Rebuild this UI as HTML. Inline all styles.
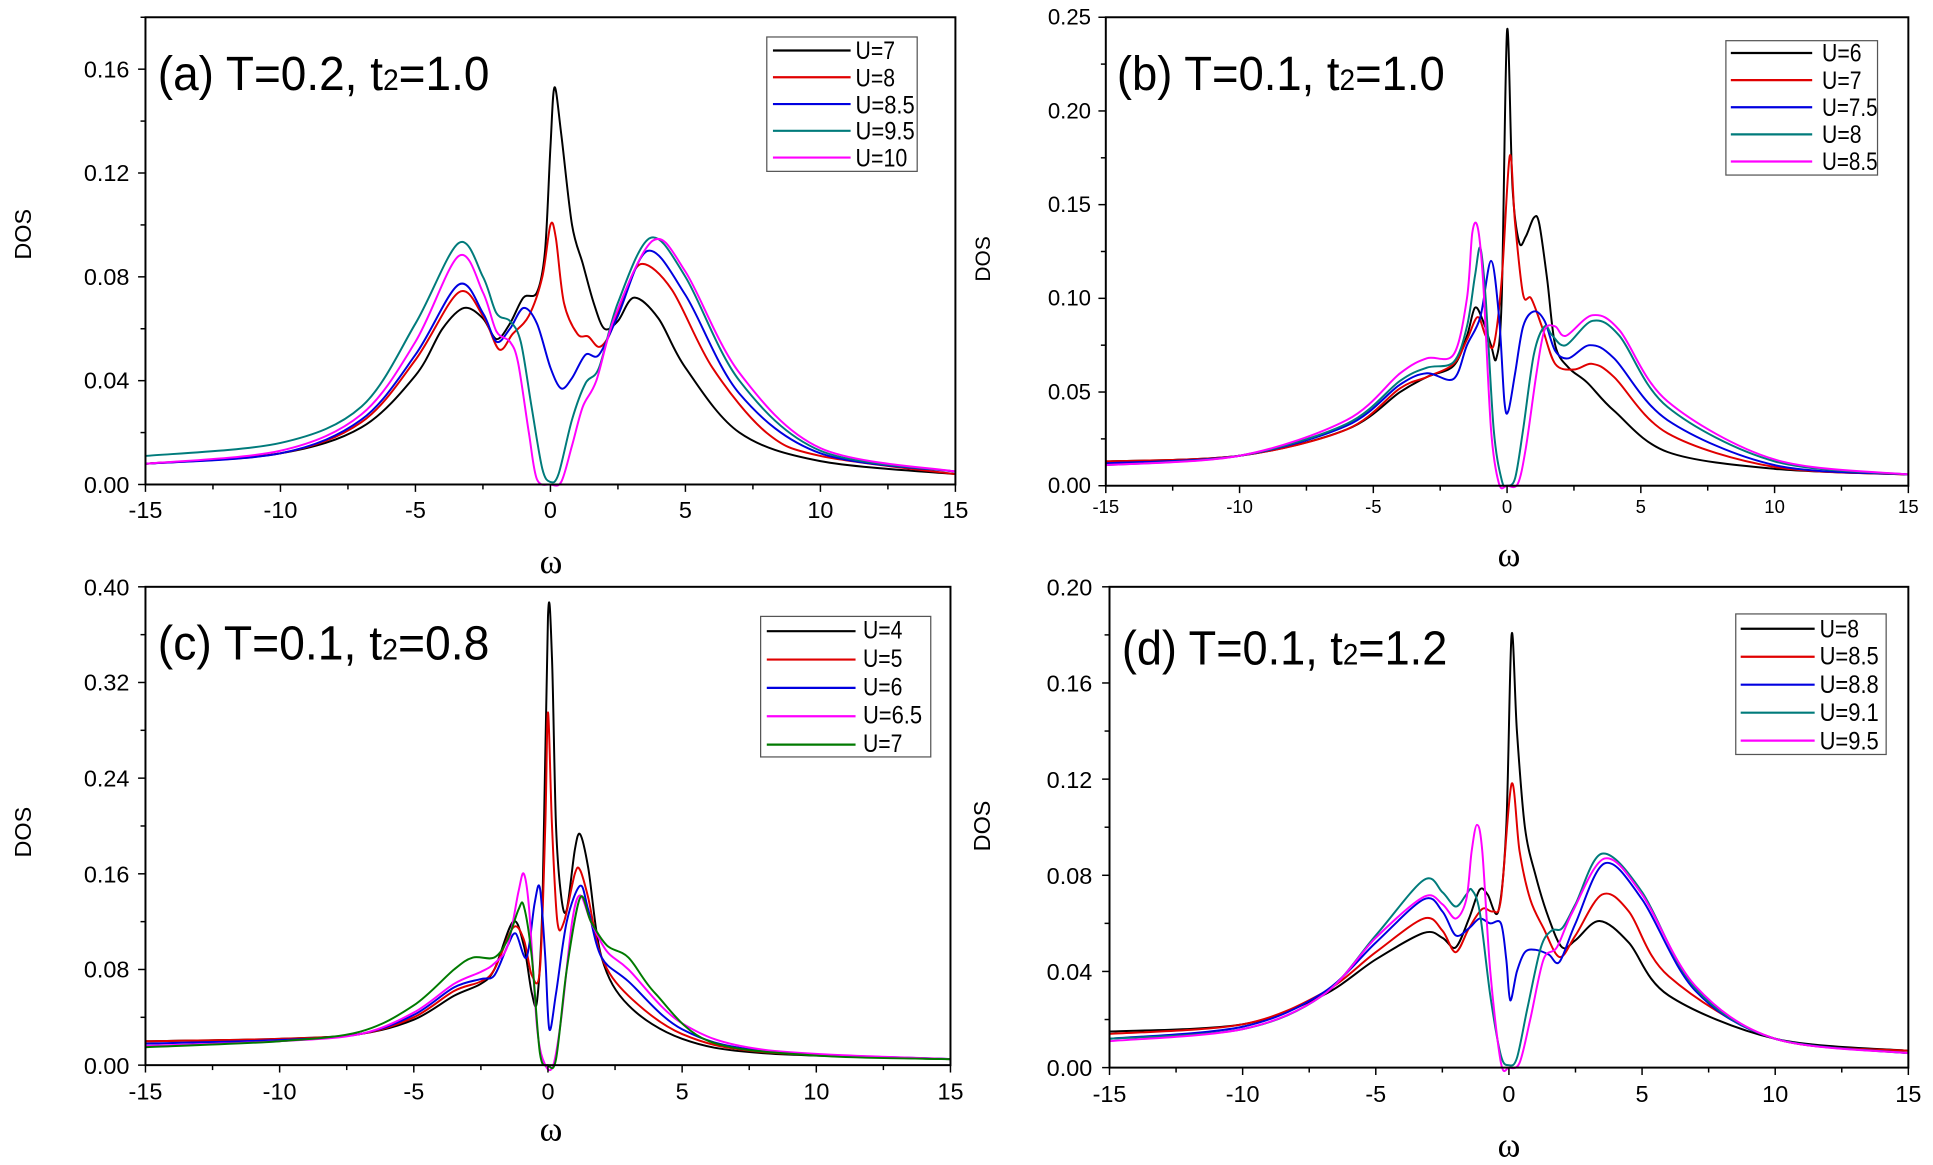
<!DOCTYPE html>
<html><head><meta charset="utf-8">
<style>
html,body{margin:0;padding:0;background:#fff;}
svg{display:block;}
text{font-family:"Liberation Sans",Arial,sans-serif;fill:#000;}
</style></head>
<body>
<svg id="s" xmlns="http://www.w3.org/2000/svg" width="1933" height="1165" viewBox="0 0 1568 945" preserveAspectRatio="none">
<rect width="1568" height="945" fill="#fff"/>
<g id="g"></g>
<!-- Panel a text -->
<g font-size="19">
<text x="105" y="400" text-anchor="end">0.00</text>
<text x="105" y="315" text-anchor="end">0.04</text>
<text x="105" y="231" text-anchor="end">0.08</text>
<text x="105" y="147" text-anchor="end">0.12</text>
<text x="105" y="63" text-anchor="end">0.16</text>
<text x="118" y="420" text-anchor="middle">-15</text>
<text x="227.5" y="420" text-anchor="middle">-10</text>
<text x="337" y="420" text-anchor="middle">-5</text>
<text x="446.5" y="420" text-anchor="middle">0</text>
<text x="556" y="420" text-anchor="middle">5</text>
<text x="665.5" y="420" text-anchor="middle">10</text>
<text x="775" y="420" text-anchor="middle">15</text>
</g>
<text x="447" y="465" font-size="28" text-anchor="middle" style="font-family:'Liberation Serif',serif">ω</text>
<text transform="translate(25,190) rotate(-90)" font-size="19" text-anchor="middle">DOS</text>
<text x="128" y="73" font-size="39" textLength="269" lengthAdjust="spacingAndGlyphs">(a) T=0.2, t<tspan font-size="24">2</tspan>=1.0</text>
<rect x="622" y="30" width="122" height="109" fill="#fff" stroke="#555" stroke-width="1"/>
<g font-size="20">
<text x="694" y="48" textLength="32" lengthAdjust="spacingAndGlyphs">U=7</text><text x="694" y="70" textLength="32" lengthAdjust="spacingAndGlyphs">U=8</text><text x="694" y="92" textLength="48" lengthAdjust="spacingAndGlyphs">U=8.5</text><text x="694" y="113" textLength="48" lengthAdjust="spacingAndGlyphs">U=9.5</text><text x="694" y="135" textLength="42" lengthAdjust="spacingAndGlyphs">U=10</text>
</g>
<!-- Panel b text -->
<g font-size="18">
<text x="885" y="400" text-anchor="end">0.00</text>
<text x="885" y="324" text-anchor="end">0.05</text>
<text x="885" y="248" text-anchor="end">0.10</text>
<text x="885" y="172" text-anchor="end">0.15</text>
<text x="885" y="96" text-anchor="end">0.20</text>
<text x="885" y="20" text-anchor="end">0.25</text>
</g>
<g font-size="15">
<text x="897" y="416" text-anchor="middle">-15</text>
<text x="1005.5" y="416" text-anchor="middle">-10</text>
<text x="1114" y="416" text-anchor="middle">-5</text>
<text x="1222.5" y="416" text-anchor="middle">0</text>
<text x="1331" y="416" text-anchor="middle">5</text>
<text x="1439.5" y="416" text-anchor="middle">10</text>
<text x="1548" y="416" text-anchor="middle">15</text>
</g>
<text x="1224" y="459" font-size="28" text-anchor="middle" style="font-family:'Liberation Serif',serif">ω</text>
<text transform="translate(803,210) rotate(-90)" font-size="17" text-anchor="middle">DOS</text>
<text x="906" y="73" font-size="39" textLength="266" lengthAdjust="spacingAndGlyphs">(b) T=0.1, t<tspan font-size="24">2</tspan>=1.0</text>
<rect x="1400" y="33" width="123" height="109" fill="#fff" stroke="#555" stroke-width="1"/>
<g font-size="20">
<text x="1478" y="50" textLength="32" lengthAdjust="spacingAndGlyphs">U=6</text><text x="1478" y="72" textLength="32" lengthAdjust="spacingAndGlyphs">U=7</text><text x="1478" y="94" textLength="45" lengthAdjust="spacingAndGlyphs">U=7.5</text><text x="1478" y="116" textLength="32" lengthAdjust="spacingAndGlyphs">U=8</text><text x="1478" y="138" textLength="45" lengthAdjust="spacingAndGlyphs">U=8.5</text>
</g>
<!-- Panel c text -->
<g font-size="19">
<text x="105" y="871" text-anchor="end">0.00</text>
<text x="105" y="793" text-anchor="end">0.08</text>
<text x="105" y="716" text-anchor="end">0.16</text>
<text x="105" y="638" text-anchor="end">0.24</text>
<text x="105" y="560" text-anchor="end">0.32</text>
<text x="105" y="483" text-anchor="end">0.40</text>
<text x="118" y="892" text-anchor="middle">-15</text>
<text x="226.8" y="892" text-anchor="middle">-10</text>
<text x="335.7" y="892" text-anchor="middle">-5</text>
<text x="444.5" y="892" text-anchor="middle">0</text>
<text x="553.3" y="892" text-anchor="middle">5</text>
<text x="662.2" y="892" text-anchor="middle">10</text>
<text x="771" y="892" text-anchor="middle">15</text>
</g>
<text x="447" y="925" font-size="28" text-anchor="middle" style="font-family:'Liberation Serif',serif">ω</text>
<text transform="translate(25,675) rotate(-90)" font-size="19" text-anchor="middle">DOS</text>
<text x="128" y="535" font-size="39" textLength="269" lengthAdjust="spacingAndGlyphs">(c) T=0.1, t<tspan font-size="24">2</tspan>=0.8</text>
<rect x="617" y="500" width="138" height="114" fill="#fff" stroke="#555" stroke-width="1"/>
<g font-size="20">
<text x="700" y="518" textLength="32" lengthAdjust="spacingAndGlyphs">U=4</text><text x="700" y="541" textLength="32" lengthAdjust="spacingAndGlyphs">U=5</text><text x="700" y="564" textLength="32" lengthAdjust="spacingAndGlyphs">U=6</text><text x="700" y="587" textLength="48" lengthAdjust="spacingAndGlyphs">U=6.5</text><text x="700" y="610" textLength="32" lengthAdjust="spacingAndGlyphs">U=7</text>
</g>
<!-- Panel d text -->
<g font-size="19">
<text x="886" y="873" text-anchor="end">0.00</text>
<text x="886" y="795" text-anchor="end">0.04</text>
<text x="886" y="717" text-anchor="end">0.08</text>
<text x="886" y="639" text-anchor="end">0.12</text>
<text x="886" y="561" text-anchor="end">0.16</text>
<text x="886" y="483" text-anchor="end">0.20</text>
<text x="900" y="894" text-anchor="middle">-15</text>
<text x="1008" y="894" text-anchor="middle">-10</text>
<text x="1116" y="894" text-anchor="middle">-5</text>
<text x="1224" y="894" text-anchor="middle">0</text>
<text x="1332" y="894" text-anchor="middle">5</text>
<text x="1440" y="894" text-anchor="middle">10</text>
<text x="1548" y="894" text-anchor="middle">15</text>
</g>
<text x="1224" y="938" font-size="28" text-anchor="middle" style="font-family:'Liberation Serif',serif">ω</text>
<text transform="translate(803,670) rotate(-90)" font-size="19" text-anchor="middle">DOS</text>
<text x="910" y="539" font-size="39" textLength="264" lengthAdjust="spacingAndGlyphs">(d) T=0.1, t<tspan font-size="24">2</tspan>=1.2</text>
<rect x="1408" y="498" width="122" height="114" fill="#fff" stroke="#555" stroke-width="1"/>
<g font-size="20">
<text x="1476" y="517" textLength="32" lengthAdjust="spacingAndGlyphs">U=8</text><text x="1476" y="539" textLength="48" lengthAdjust="spacingAndGlyphs">U=8.5</text><text x="1476" y="562" textLength="48" lengthAdjust="spacingAndGlyphs">U=8.8</text><text x="1476" y="585" textLength="48" lengthAdjust="spacingAndGlyphs">U=9.1</text><text x="1476" y="608" textLength="48" lengthAdjust="spacingAndGlyphs">U=9.5</text>
</g>
<g id="leg"></g>
</svg>
<script>
var NS="http://www.w3.org/2000/svg",G=document.getElementById("g"),L=document.getElementById("leg");
function el(p,t,a){var e=document.createElementNS(NS,t);for(var k in a)e.setAttribute(k,a[k]);p.appendChild(e);return e;}
var C={k:"#000",r:"#e00000",b:"#0000e0",t:"#007b7b",m:"#ff00ff",g:"#007a00"};
function panel(P){
 var X=function(w){return P.x0+(w+15)*(P.x1-P.x0)/30;};
 var Y=function(v){return P.y0-v*(P.y0-P.ytop)/P.ymax;};
 P.curves.forEach(function(c){
  var pts=c.p.map(function(q){return [X(q[0]),Y(q[1])];});
  var d="M"+pts[0][0].toFixed(2)+","+pts[0][1].toFixed(2);
  for(var i=0;i<pts.length-1;i++){
   var p0=pts[i-1]||pts[i],p1=pts[i],p2=pts[i+1],p3=pts[i+2]||p2;
   var t=0.16;
   var c1=[p1[0]+(p2[0]-p0[0])*t,p1[1]+(p2[1]-p0[1])*t];
   var c2=[p2[0]-(p3[0]-p1[0])*t,p2[1]-(p3[1]-p1[1])*t];
   d+="C"+c1[0].toFixed(2)+","+c1[1].toFixed(2)+" "+c2[0].toFixed(2)+","+c2[1].toFixed(2)+" "+p2[0].toFixed(2)+","+p2[1].toFixed(2);
  }
  el(G,"path",{d:d,fill:"none",stroke:C[c.c],"stroke-width":1.6,"stroke-linejoin":"round"});
 });
 el(G,"rect",{x:P.x0,y:P.ytop,width:P.x1-P.x0,height:P.y0-P.ytop,fill:"none",stroke:"#000","stroke-width":1.6});
 for(var w=-15;w<=15;w+=2.5){var maj=(w%5===0);el(G,"line",{x1:X(w),x2:X(w),y1:P.y0,y2:P.y0+(maj?6:4),stroke:"#000","stroke-width":1.2});}
 for(var v=0;v<=P.ymax+1e-9;v+=P.ystep/2){var maj=Math.abs(Math.round(v/P.ystep)*P.ystep-v)<1e-9;el(G,"line",{x1:P.x0,x2:P.x0-(maj?6:4),y1:Y(v),y2:Y(v),stroke:"#000","stroke-width":1.2});}
 P.leg.cols.forEach(function(cc,i){var yy=P.leg.y0+i*P.leg.dy;el(L,"line",{x1:P.leg.xa,x2:P.leg.xb,y1:yy,y2:yy,stroke:C[cc],"stroke-width":1.8});});
}
panel({x0:118,x1:775,y0:393,ytop:14,ymax:0.18,ystep:0.04,
leg:{cols:["k","r","b","t","m"],xa:627,xb:690,y0:41,dy:21.7},
curves:[
{c:"k",p:[[-15,.008],[-10,.012],[-7,.022],[-5,.042],[-4,.06],[-3.2,.068],[-2.5,.064],[-2,.056],[-1.5,.062],[-1,.072],[-0.5,.074],[-0.2,.09],[0,.13],[0.15,.153],[0.4,.135],[0.8,.1],[1.2,.085],[1.6,.07],[2,.06],[2.5,.063],[3.1,.072],[4,.064],[5,.045],[7,.02],[10,.009],[15,.004]]},
{c:"r",p:[[-15,.008],[-10,.012],[-7,.024],[-5,.048],[-3.4,.074],[-2.5,.065],[-1.9,.052],[-1.4,.058],[-0.8,.065],[-0.3,.08],[0,.1],[0.2,.095],[0.5,.07],[1,.058],[1.4,.057],[1.8,.053],[2.2,.058],[2.8,.075],[3.4,.085],[4.5,.075],[6,.045],[8,.02],[10,.011],[15,.004]]},
{c:"b",p:[[-15,.008],[-10,.012],[-7,.025],[-5,.05],[-3.4,.077],[-2.5,.066],[-2,.055],[-1.5,.06],[-1,.068],[-0.5,.062],[0,.045],[0.4,.037],[0.8,.041],[1.3,.05],[1.8,.05],[2.5,.065],[3.6,.09],[5,.073],[7,.035],[10,.012],[15,.005]]},
{c:"t",p:[[-15,.011],[-10,.016],[-7,.03],[-5,.062],[-3.4,.093],[-2.5,.08],[-2,.066],[-1.5,.063],[-1.1,.055],[-0.7,.03],[-0.3,.006],[0,.001],[0.3,.004],[0.8,.025],[1.3,.039],[1.8,.045],[2.5,.07],[3.7,.095],[5,.08],[7,.04],[10,.013],[15,.005]]},
{c:"m",p:[[-15,.008],[-10,.013],[-7,.027],[-5,.055],[-3.4,.088],[-2.5,.074],[-2,.059],[-1.5,.055],[-1.2,.047],[-0.8,.02],[-0.5,.002],[0,0],[0.4,.001],[0.8,.015],[1.2,.03],[1.7,.04],[2.4,.065],[3.8,.094],[5,.082],[7,.043],[10,.014],[15,.005]]}
]});
panel({x0:897,x1:1548,y0:394,ytop:14,ymax:0.25,ystep:0.05,
leg:{cols:["k","r","b","t","m"],xa:1404,xb:1470,y0:43,dy:22},
curves:[
{c:"k",p:[[-15,.013],[-10,.016],[-6,.03],[-4,.05],[-3,.058],[-2,.064],[-1.5,.08],[-1.2,.095],[-0.9,.088],[-0.6,.075],[-0.4,.068],[-0.2,.1],[0,.243],[0.2,.16],[0.45,.13],[0.7,.133],[1,.143],[1.2,.14],[1.5,.11],[1.8,.075],[2.3,.063],[3,.055],[4,.04],[6,.018],[10,.009],[15,.006]]},
{c:"r",p:[[-15,.013],[-10,.016],[-6,.03],[-4,.052],[-3,.058],[-2,.065],[-1.5,.078],[-1.1,.09],[-0.8,.08],[-0.5,.075],[-0.2,.11],[0.1,.176],[0.3,.14],[0.6,.102],[0.9,.1],[1.3,.085],[1.8,.065],[2.5,.062],[3.2,.065],[4,.058],[6,.028],[10,.01],[15,.006]]},
{c:"b",p:[[-15,.012],[-10,.016],[-6,.032],[-4,.054],[-3,.06],[-2,.057],[-1.5,.075],[-1,.09],[-0.6,.12],[-0.3,.09],[-0.1,.045],[0.05,.04],[0.3,.06],[0.6,.085],[1,.093],[1.4,.088],[1.8,.072],[2.3,.068],[3.1,.075],[4,.068],[6,.035],[10,.011],[15,.006]]},
{c:"t",p:[[-15,.011],[-10,.016],[-6,.033],[-4,.056],[-3,.063],[-2,.066],[-1.5,.085],[-1.2,.112],[-1,.127],[-0.8,.1],[-0.5,.03],[-0.2,.003],[0,0],[0.3,.004],[0.6,.03],[1,.07],[1.4,.085],[1.7,.08],[2.2,.075],[3.2,.088],[4.2,.08],[6,.042],[10,.013],[15,.006]]},
{c:"m",p:[[-15,.011],[-10,.016],[-6,.035],[-4,.06],[-3,.068],[-2,.07],[-1.5,.1],[-1.3,.135],[-1.1,.138],[-0.9,.11],[-0.6,.03],[-0.3,.001],[0,0],[0.4,.001],[0.7,.02],[1.1,.06],[1.4,.083],[1.8,.085],[2.2,.08],[3.2,.091],[4.2,.083],[6,.045],[10,.014],[15,.006]]}
]});
panel({x0:118,x1:771,y0:864,ytop:476,ymax:0.40,ystep:0.08,
leg:{cols:["k","r","b","m","g"],xa:622,xb:694,y0:512,dy:23},
curves:[
{c:"k",p:[[-15,.02],[-10,.022],[-7,.026],[-5,.038],[-3.5,.058],[-2.5,.068],[-2,.08],[-1.3,.12],[-0.9,.1],[-0.6,.06],[-0.4,.055],[-0.2,.14],[0,.375],[0.15,.34],[0.3,.2],[0.5,.14],[0.7,.13],[1,.18],[1.2,.193],[1.5,.165],[2,.09],[3,.05],[5,.022],[8,.01],[15,.005]]},
{c:"r",p:[[-15,.02],[-10,.022],[-7,.026],[-5,.04],[-3.5,.062],[-2.5,.07],[-2,.08],[-1.3,.115],[-0.9,.105],[-0.6,.075],[-0.3,.08],[-0.1,.2],[0,.295],[0.15,.2],[0.35,.12],[0.6,.12],[1,.16],[1.2,.163],[1.5,.14],[2,.09],[3,.058],[5,.026],[8,.011],[15,.005]]},
{c:"b",p:[[-15,.018],[-10,.021],[-7,.026],[-5,.042],[-3.5,.065],[-2.5,.072],[-2,.075],[-1.5,.1],[-1.2,.11],[-0.8,.09],[-0.5,.135],[-0.3,.148],[-0.1,.09],[0.05,.03],[0.3,.06],[0.7,.12],[1.2,.15],[1.5,.13],[2,.09],[3,.07],[5,.03],[8,.012],[15,.005]]},
{c:"m",p:[[-15,.016],[-10,.02],[-7,.026],[-5,.044],[-3.5,.068],[-2.5,.078],[-2,.085],[-1.5,.1],[-1.1,.145],[-0.9,.16],[-0.7,.13],[-0.4,.03],[-0.1,0],[0.2,0],[0.5,.04],[0.9,.12],[1.2,.142],[1.6,.12],[2.2,.095],[3,.08],[5,.035],[8,.013],[15,.005]]},
{c:"g",p:[[-15,.015],[-10,.02],[-7,.028],[-5,.05],[-3.5,.08],[-2.8,.09],[-2,.09],[-1.5,.105],[-1.1,.13],[-0.9,.133],[-0.6,.09],[-0.3,.01],[0,0],[0.3,.005],[0.7,.08],[1.2,.14],[1.6,.12],[2.2,.1],[3,.09],[4,.06],[6,.02],[10,.008],[15,.005]]}
]});
panel({x0:900,x1:1548,y0:866,ytop:476,ymax:0.20,ystep:0.04,
leg:{cols:["k","r","b","t","m"],xa:1412,xb:1472,y0:510,dy:22.7},
curves:[
{c:"k",p:[[-15,.015],[-10,.018],[-7,.03],[-5,.045],[-3.2,.056],[-2.5,.054],[-2,.05],[-1.5,.062],[-1.1,.074],[-0.8,.072],[-0.4,.065],[-0.1,.1],[0.1,.18],[0.3,.14],[0.6,.1],[1,.08],[1.5,.062],[2,.05],[2.5,.053],[3.4,.061],[4.5,.052],[6,.03],[10,.012],[15,.007]]},
{c:"r",p:[[-15,.014],[-10,.018],[-7,.031],[-5,.048],[-3.2,.062],[-2.5,.057],[-2,.048],[-1.5,.058],[-1,.066],[-0.6,.065],[-0.3,.07],[0.1,.118],[0.4,.09],[0.8,.07],[1.3,.058],[1.9,.046],[2.5,.055],[3.5,.072],[4.5,.065],[6,.038],[10,.012],[15,.007]]},
{c:"b",p:[[-15,.012],[-10,.017],[-7,.031],[-5,.052],[-3.2,.07],[-2.5,.065],[-2,.055],[-1.5,.058],[-1.1,.062],[-0.7,.06],[-0.3,.06],[-0.1,.045],[0.05,.028],[0.3,.04],[0.6,.048],[1,.049],[1.5,.047],[1.9,.044],[2.5,.06],[3.6,.085],[5,.07],[7,.032],[10,.012],[15,.006]]},
{c:"t",p:[[-15,.012],[-10,.016],[-7,.03],[-5,.055],[-3.2,.078],[-2.5,.073],[-2,.067],[-1.6,.072],[-1.4,.074],[-1.1,.065],[-0.7,.03],[-0.3,.005],[0,.001],[0.3,.004],[0.7,.025],[1.2,.05],[1.6,.057],[2,.058],[2.5,.068],[3.5,.089],[5,.073],[7,.033],[10,.012],[15,.006]]},
{c:"m",p:[[-15,.011],[-10,.016],[-7,.03],[-5,.054],[-3.2,.071],[-2.5,.068],[-2,.062],[-1.6,.07],[-1.4,.09],[-1.2,.101],[-1,.09],[-0.7,.04],[-0.3,.002],[0,0],[0.4,.002],[0.8,.02],[1.3,.045],[1.8,.05],[2.4,.065],[3.6,.087],[5,.072],[7,.034],[10,.012],[15,.006]]}
]});
</script>
</body></html>
